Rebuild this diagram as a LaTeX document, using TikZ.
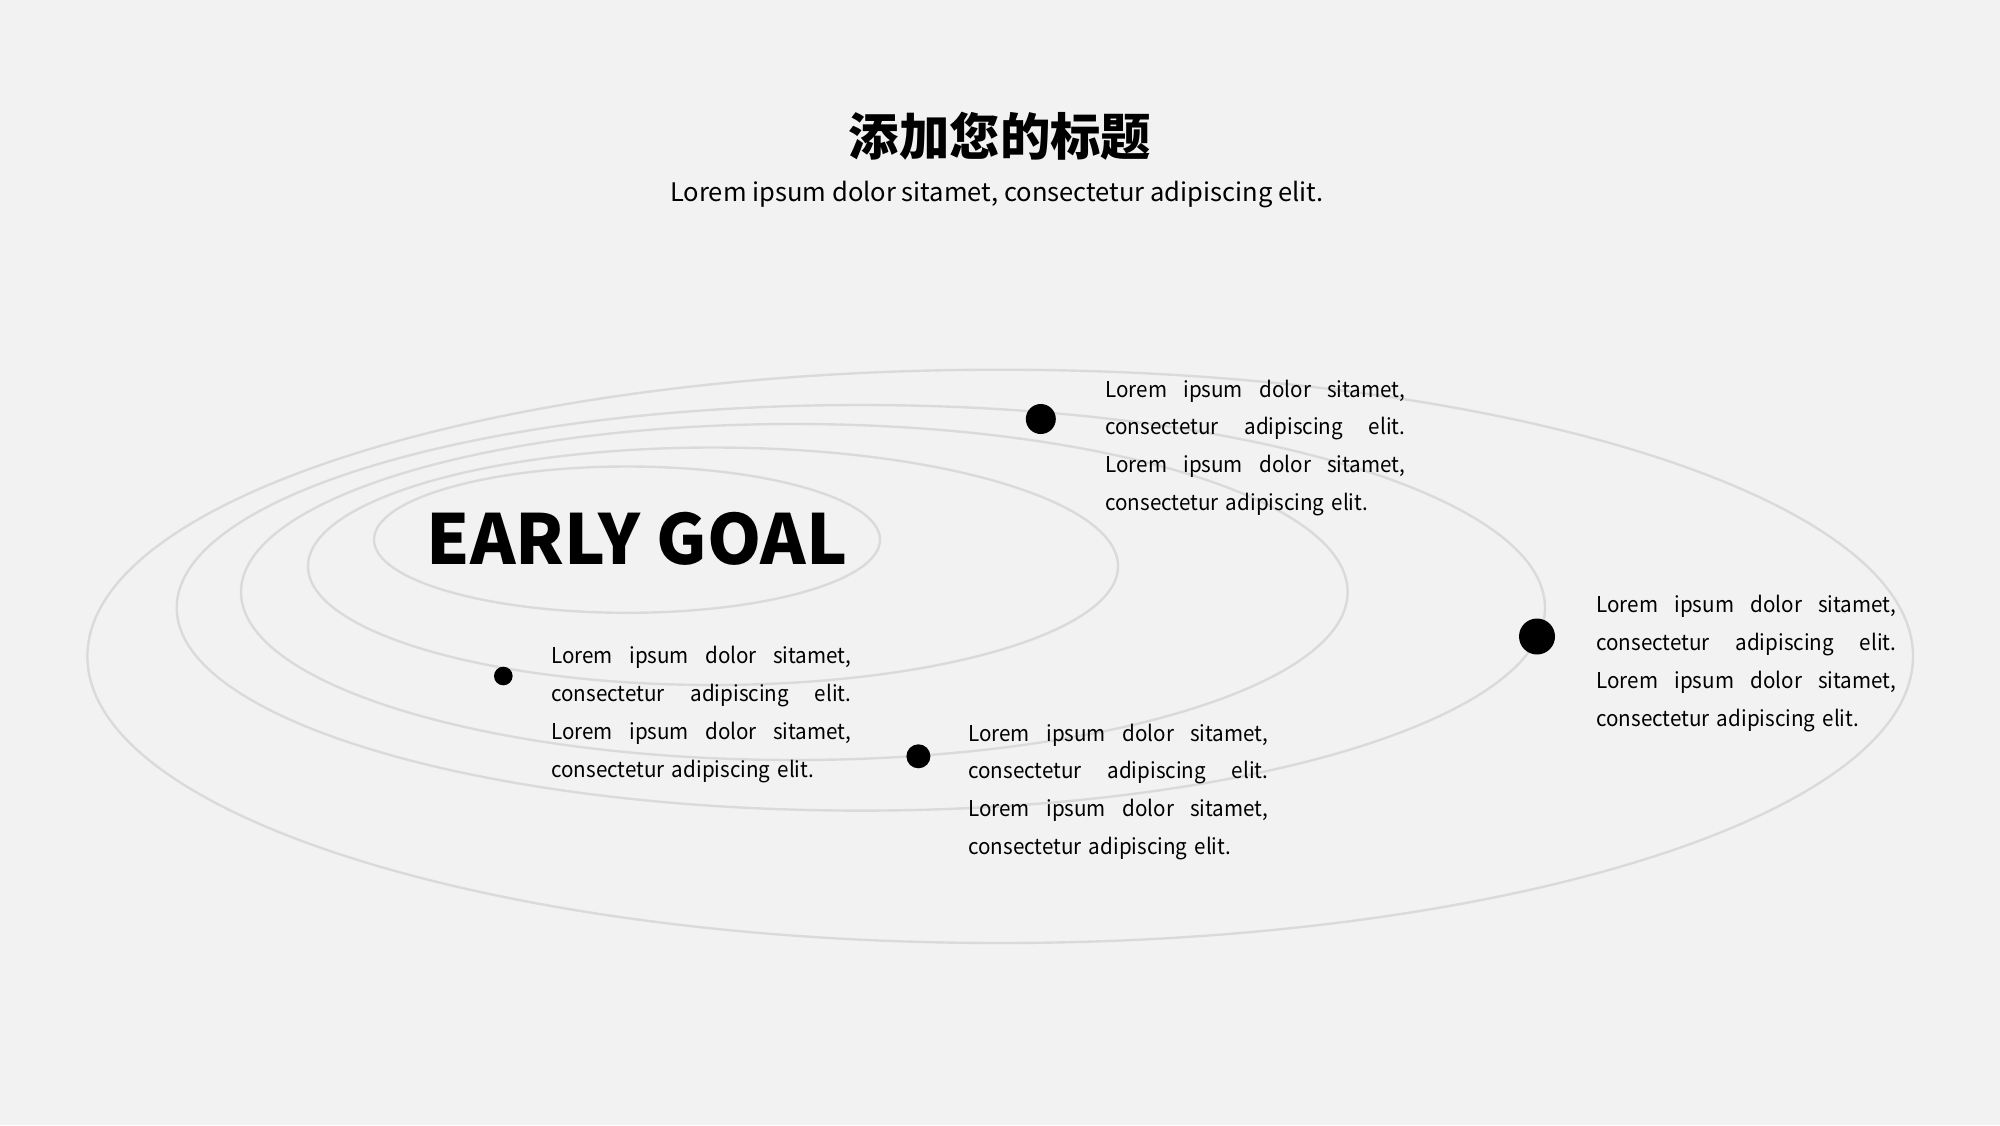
\documentclass[tikz,border=0pt]{standalone}
\usepackage{fontspec}
\setmainfont{Noto Sans CJK SC}
\newfontfamily\bodyfont[FakeStretch=0.945]{Noto Sans CJK SC}
\definecolor{bg}{HTML}{F2F2F2}
\definecolor{orbit}{HTML}{DADADA}
\newcommand{\jlinea}{\leavevmode\hbox to 150pt{Lorem\hfill ipsum\hfill dolor\hfill sitamet,}}
\newcommand{\jlineb}{\leavevmode\hbox to 150pt{consectetur\hfill adipiscing\hfill elit.}}
\newcommand{\loremblock}{\rule{0pt}{12pt}\jlinea\\\jlineb\\\jlinea\\consectetur adipiscing elit.}
\begin{document}
\begin{tikzpicture}[x=0.5pt,y=-0.5pt,
  orbitline/.style={draw=orbit,line width=1.2pt},
  planet/.style={circle,fill=black,inner sep=0pt},
  bodytext/.style={anchor=north west,inner sep=0pt,text width=150pt,align=left,
    font=\bodyfont\fontsize{10.9pt}{18.9pt}\selectfont}]
\fill[bg] (0,0) rectangle (2000,1125);
\useasboundingbox (0,0) rectangle (2000,1125);
% orbits
\draw[orbitline] (1000.2,656.35) ellipse [x radius=912.8, y radius=286.65];
\draw[orbitline] (860.85,607.8) ellipse [x radius=684.15, y radius=202.8];
\draw[orbitline] (794.3,592) ellipse [x radius=553.3, y radius=168];
\draw[orbitline] (713,566.25) ellipse [x radius=405, y radius=118.75];
\draw[orbitline] (627,539.65) ellipse [x radius=253, y radius=73.15];
% titles
\node[anchor=base,inner sep=0pt,font=\bfseries\fontsize{25.2pt}{30pt}\selectfont] (title) at (1000,155) {添加您的标题};
\node[anchor=base,inner sep=0pt,font=\fontsize{12.77pt}{16pt}\selectfont] (subtitle) at (997,201.7) {Lorem ipsum dolor sitamet, consectetur adipiscing elit.};
\node[anchor=base,inner sep=0pt,font=\bfseries\fontsize{34.5pt}{42pt}\selectfont] (goal) at (637,564) {EARLY GOAL};
% planets
\node[planet,minimum size=9.3pt] (p1) at (503.3,676) {};
\node[planet,minimum size=12pt] (p2) at (918.4,756.3) {};
\node[planet,minimum size=15pt] (p3) at (1040.8,419) {};
\node[planet,minimum size=18pt] (p4) at (1537,636.5) {};
% texts
\node[bodytext] (t1) at (551,663.3-24) {\loremblock};
\node[bodytext] (t2) at (968,740.7-24) {\loremblock};
\node[bodytext] (t3) at (1105,396.7-24) {\loremblock};
\node[bodytext] (t4) at (1596,612.3-24) {\loremblock};
\end{tikzpicture}
\end{document}
